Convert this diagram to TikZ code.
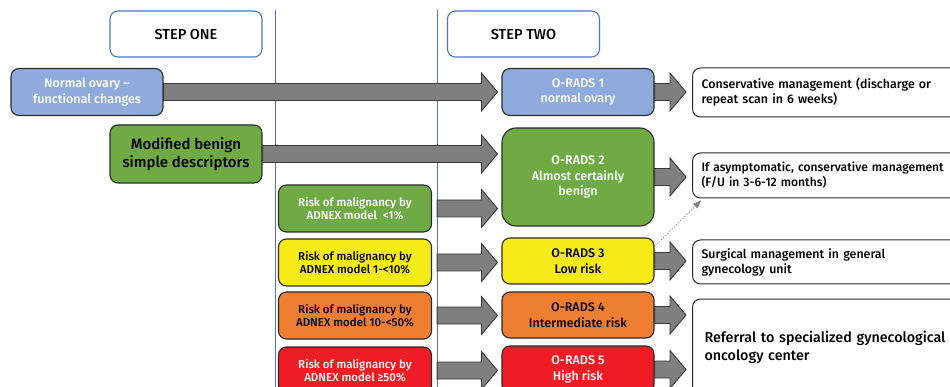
\documentclass[tikz,border=0pt]{standalone}
\usepackage{fontspec}
\setmainfont{Fira Sans Medium}
\usetikzlibrary{calc,arrows.meta}
\definecolor{lblue}{HTML}{8FAADC}
\definecolor{gr}{HTML}{6FAA45}
\definecolor{yl}{HTML}{F6EB16}
\definecolor{orng}{HTML}{EE7E32}
\definecolor{rd}{HTML}{EE1D25}
\definecolor{boxline}{HTML}{2B2B2B}
\definecolor{arrfill}{HTML}{7F7F7F}
\definecolor{arrline}{HTML}{3A3A3A}
\definecolor{vblue}{HTML}{4A78C8}
\tikzset{
  box/.style={draw=boxline, line width=1.1pt, rounded corners=8pt, minimum width=152pt,
    minimum height=46pt, inner sep=0pt, align=center},
  stepbox/.style={draw=vblue, line width=1.1pt, fill=white, rounded corners=8pt, minimum width=152pt,
    minimum height=46pt, inner sep=0pt, align=center, font=\fontsize{14.5}{16}\selectfont},
  outbox/.style={draw=boxline, line width=1pt, fill=white, rounded corners=8pt, anchor=west,
    text width=300pt, inner xsep=9pt, inner ysep=0pt, align=left, font=\fontsize{12.4}{15}\selectfont},
  small/.style={font=\fontsize{11.5}{13.5}\selectfont},
  mid/.style={font=\fontsize{12.5}{15.5}\selectfont},
  vline/.style={draw=vblue, line width=1pt},
  blockarrow/.style={fill=arrfill, draw=arrline, line width=0.9pt, line join=miter},
  dotarrow/.style={draw=gray, line width=0.6pt, dash pattern=on 1.5pt off 1.5pt,
    -{Triangle[length=8pt,width=6pt,fill=gray]}},
}
\newcommand\blockarr[4]{%
  \path[blockarrow] let \p1=(#1), \p2=(#2) in
   (\x1+#3, \y1+8.5pt) -- (\x2-#4-16pt, \y1+8.5pt) -- (\x2-#4-16pt, \y1+19pt) -- (\x2-#4, \y1)
   -- (\x2-#4-16pt, \y1-19pt) -- (\x2-#4-16pt, \y1-8.5pt) -- (\x1+#3, \y1-8.5pt) -- cycle;}
\begin{document}
\begin{tikzpicture}[x=1pt,y=-1pt]
\useasboundingbox (0,0) rectangle (950,387);
\clip (0,0) rectangle (950,387);
\fill[white] (0,0) rectangle (950,387);
\draw[vline] (275,10) -- (275,390);
\draw[vline] (437,10) -- (437,390);

\node[stepbox] (step1) at (186,34) {STEP ONE};
\node[stepbox] (step2) at (523.5,34) {STEP TWO};

\node[box, fill=lblue, text=white, mid, minimum height=47pt] (normal) at (87,92) {Normal ovary –\\functional changes};
\node[box, fill=gr, text=black, font=\fontsize{15}{17.5}\selectfont, minimum height=58pt] (benign) at (186,154) {Modified benign\\simple descriptors};

\node[box, fill=gr, text=white, small, minimum width=153pt, minimum height=47pt] (r1) at (355,208.5) {Risk of malignancy by\\ADNEX model \ <1\%};
\node[box, fill=yl, text=black, small, minimum width=153pt, minimum height=47pt] (r2) at (355,262.5) {Risk of malignancy by\\ADNEX model 1-<10\%};
\node[box, fill=orng, text=black, small, minimum width=153pt, minimum height=47pt] (r3) at (355,315.5) {Risk of malignancy by\\ADNEX model 10-<50\%};
\node[box, fill=rd, text=white, small, minimum width=153pt, minimum height=47pt] (r4) at (355,370.5) {Risk of malignancy by\\ADNEX model ≥50\%};

\node[box, fill=lblue, text=white, mid, minimum height=47pt] (o1) at (578,92) {O-RADS 1\\normal ovary};
\node[box, fill=gr, text=white, mid, minimum height=98pt, rounded corners=14pt] (o2) at (578,177) {O-RADS 2\\Almost certainly\\benign};
\node[box, fill=yl, text=black, mid] (o3) at (578,261) {O-RADS 3\\Low risk};
\node[box, fill=orng, text=black, mid] (o4) at (578,315) {O-RADS 4\\Intermediate risk};
\node[box, fill=rd, text=white, mid, minimum height=47pt] (o5) at (578,369.5) {O-RADS 5\\High risk};

\node[outbox, minimum height=49pt] (c1) at (692,92.5) {Conservative management (discharge or\\repeat scan in 6 weeks)};
\node[outbox, minimum height=45pt, font=\fontsize{12.1}{15}\selectfont] (c2) at (692,175.5) {If asymptomatic, conservative management\\(F/U in 3-6-12 months)};
\node[outbox, minimum height=44pt] (c3) at (692,262) {Surgical management in general\\gynecology unit};
\node[outbox, minimum height=96pt, inner xsep=12pt, font=\fontsize{14.3}{18}\selectfont] (c4) at (692,347) {Referral to specialized gynecological\\oncology center};

\blockarr{normal.east}{o1.west}{0pt}{4pt}
\blockarr{benign.east}{o2.west}{0pt}{4pt}
\blockarr{r1.east}{o2.west}{5pt}{4pt}
\blockarr{r2.east}{o3.west}{5pt}{4pt}
\blockarr{r3.east}{o4.west}{5pt}{4pt}
\blockarr{r4.east}{o5.west}{5pt}{4pt}
\blockarr{o1.east}{c1.west}{0pt}{6pt}
\blockarr{o2.east}{c2.west}{0pt}{6pt}
\blockarr{o3.east}{c3.west}{0pt}{6pt}
\blockarr{o4.east}{c4.west}{0pt}{6pt}
\blockarr{o5.east}{c4.west}{0pt}{6pt}

\coordinate (dstart) at ([yshift=-9pt]o3.north east);
\coordinate (dend) at ([xshift=9pt,yshift=-2pt]c2.south west);
\draw[dotarrow] (dstart) -- (dend);
\end{tikzpicture}
\end{document}
